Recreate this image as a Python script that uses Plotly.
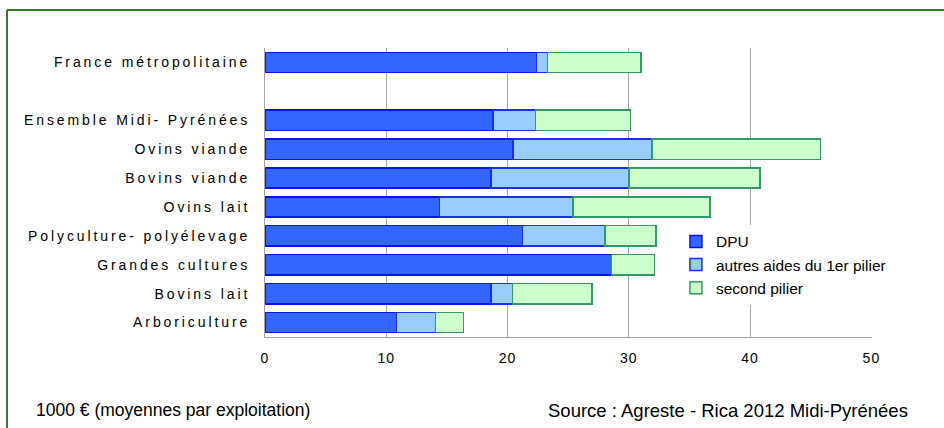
import plotly.graph_objects as go

# Categories, top to bottom; the empty entry leaves a gap below the national reference
categories = [
    "France métropolitaine",
    "\u00a0",
    "Ensemble Midi- Pyrénées",
    "Ovins viande",
    "Bovins viande",
    "Ovins lait",
    "Polyculture- polyélevage",
    "Grandes cultures",
    "Bovins lait",
    "Arboriculture",
]

# Average amounts per farm, in thousand euros (None for the gap row)
dpu = [22.4, None, 18.8, 20.45, 18.65, 14.4, 21.25, 28.55, 18.65, 10.85]
autres_aides = [0.9, None, 3.5, 11.45, 11.35, 11.0, 6.8, 0.0, 1.75, 3.2]
second_pilier = [7.7, None, 7.85, 13.9, 10.8, 11.3, 4.2, 3.55, 6.55, 2.3]

series_names = ["DPU", "autres aides du 1er pilier", "second pilier"]
x_ticks = [0, 10, 20, 30, 40, 50]

FONT = "Liberation Sans, Arial, sans-serif"
FRAME = dict(color="#2F7D2A", width=2)

fig = go.Figure()
styles = [
    ("#3366FF", "#0A14F0"),
    ("#99CCFF", "#1A2EF0"),
    ("#CCFFCC", "#339966"),
]
for name, values, (fill, edge) in zip(series_names, [dpu, autres_aides, second_pilier], styles):
    fig.add_trace(go.Bar(
        name=name,
        y=categories,
        x=values,
        orientation="h",
        marker=dict(color=fill, line=dict(color=edge, width=1.5)),
        hoverinfo="x+y+name",
    ))

fig.update_layout(
    width=944,
    height=428,
    margin=dict(l=265, r=72, t=48, b=91),
    paper_bgcolor="white",
    plot_bgcolor="white",
    barmode="stack",
    bargap=0.3,
    font=dict(family=FONT, size=14, color="black"),
    showlegend=True,
    legend=dict(
        x=0.677, y=0.388, xanchor="left", yanchor="top",
        traceorder="normal",
        bgcolor="white",
        font=dict(family=FONT, size=15.5, color="black"),
        itemwidth=30,
        tracegroupgap=0,
    ),
    xaxis=dict(
        range=[0, 50.05],
        tickvals=x_ticks,
        ticktext=[str(v) for v in x_ticks],
        showgrid=True,
        gridcolor="#A6A6A6",
        gridwidth=1,
        zeroline=False,
        showline=True,
        linecolor="#A6A6A6",
        linewidth=1,
        ticks="",
        ticklabelstandoff=8,
        tickfont=dict(family=FONT, size=14, color="black"),
    ),
    yaxis=dict(
        type="category",
        categoryorder="array",
        categoryarray=categories[::-1],
        showgrid=False,
        zeroline=False,
        showline=True,
        linecolor="#A6A6A6",
        linewidth=1,
        ticks="",
        ticklabelstandoff=11,
        tickfont=dict(family=FONT, size=14, color="black"),
    ),
    shapes=[
        # green frame: left and top edges (the rest lies outside the page)
        dict(type="line", xref="paper", yref="paper",
             x0=-0.425, x1=-0.425, y0=-0.5, y1=1.1315, line=FRAME),
        dict(type="line", xref="paper", yref="paper",
             x0=-0.425, x1=1.2, y0=1.1315, y1=1.1315, line=FRAME),
    ],
    annotations=[
        dict(text="1000 € (moyennes par exploitation)", xref="paper", yref="paper",
             x=-0.3805, y=-0.2526, xanchor="left", yanchor="middle", showarrow=False,
             font=dict(family=FONT, size=17.5, color="black")),
        dict(text="Source : Agreste - Rica 2012 Midi-Pyrénées", xref="paper", yref="paper",
             x=0.4627, y=-0.2526, xanchor="left", yanchor="middle", showarrow=False,
             font=dict(family=FONT, size=18.5, color="black")),
    ],
)

# widen the letter spacing of the axis labels
post = """
var gd = document.getElementsByClassName('plotly-graph-div')[0];
function spread(){
  gd.querySelectorAll('.ytick text').forEach(function(t){ t.style.letterSpacing='2.9px'; });
  gd.querySelectorAll('.xtick text').forEach(function(t){ t.style.letterSpacing='1px'; });
}
spread();
gd.on('plotly_afterplot', spread);
"""

fig.write_html("out.html", post_script=post)
